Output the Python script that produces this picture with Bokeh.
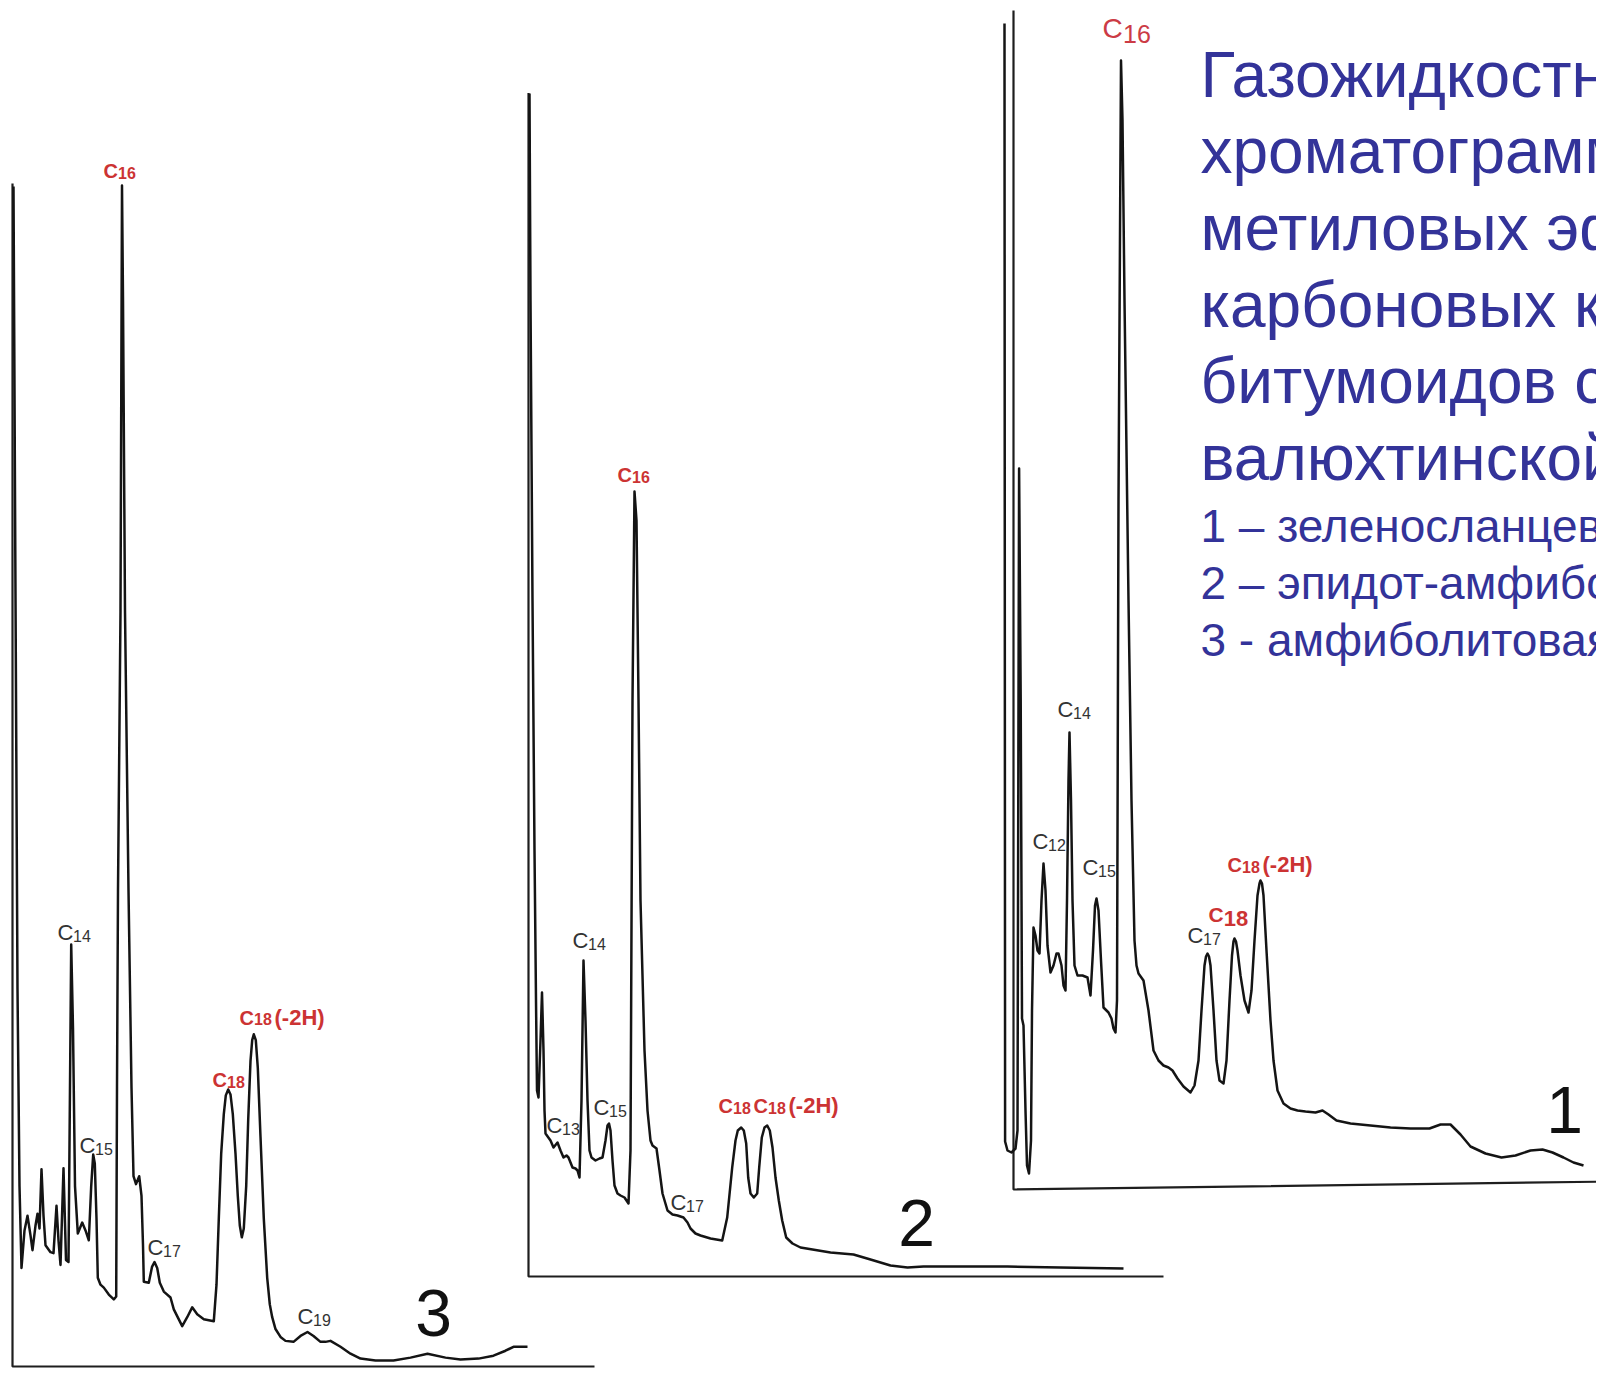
from bokeh.plotting import figure
from bokeh.models import Range1d, ColumnDataSource
from bokeh.core.properties import value
from bokeh.embed import file_html
from bokeh.resources import INLINE

# ---------------- DATA ----------------
# Chromatogram traces: (retention, signal), per chromatogram
chrom1_trace = [
    (-9, 1166), (-8.7, 589), (-8.4, 48), (-6, 39), (-2, 37), (2, 41), (4, 59), (5, 489), (5.6, 721), (7.2, 489),
    (8.5, 171), (10, 164), (12, 79), (13.5, 24), (15.5, 16), (17.5, 49), (18.5, 179), (20, 262), (22, 254), (24, 239),
    (26, 236), (28, 289), (30, 326), (32, 299), (34, 244), (37, 217), (40, 224), (43, 236), (45, 236), (48, 224),
    (50, 204), (52, 199), (53.5, 289), (55, 409), (56, 457), (57.5, 389), (59, 289), (61, 224), (64, 214), (69, 214),
    (74, 212), (77, 194), (79.5, 239), (81.5, 284), (83, 291), (85, 279), (87.5, 229), (90, 182), (93, 179), (95, 177),
    (98, 171), (100, 161), (102, 157), (103.5, 189), (105, 689), (107.5, 1129), (109, 1069), (111, 889), (115, 589), (118, 389),
    (121, 249), (123, 224), (125, 216), (130, 209), (135, 179), (140, 139), (145, 129), (150, 124), (155, 122), (159, 119),
    (164, 111), (170, 103), (177, 97), (181, 104), (185, 129), (188, 179), (191, 224), (192.5, 233), (194, 236), (195.5, 233),
    (197, 224), (200, 179), (203, 129), (206, 109), (210, 106), (213, 129), (216, 189), (218.5, 234), (220, 248), (221, 251),
    (222.5, 248), (224, 239), (227, 214), (231, 189), (235, 177), (238, 199), (241, 249), (244, 294), (246, 306), (247, 309),
    (248.5, 306), (250, 294), (253, 239), (257, 169), (260, 129), (264, 99), (270, 86), (277, 81), (284, 79), (292, 78),
    (302, 77), (309, 79), (315, 75), (323, 69), (337, 66), (357, 64), (377, 62), (397, 61), (416, 61), (427, 65),
    (437, 65), (447, 55), (457, 43), (472, 36), (488, 32), (502, 34), (517, 39), (529, 40), (539, 37), (550, 32),
    (560, 27), (570, 24),
]
chrom2_trace = [
    (1, 1183), (2, 976), (4, 676), (6, 426), (7.5, 276), (8.5, 186), (10, 179), (12, 236), (13.5, 284), (15, 226),
    (16, 166), (17, 143), (22, 136), (25, 129), (29, 134), (32, 126), (35, 119), (38, 121), (40, 119), (44, 109),
    (47, 108), (49, 106), (51, 99), (53, 176), (55, 316), (57, 256), (59, 176), (61, 126), (63, 119), (67, 116),
    (71, 118), (74, 119), (77, 136), (79, 151), (80.5, 153), (82, 146), (84, 116), (86, 91), (89, 83), (92, 81),
    (96, 79), (100, 73), (102, 126), (104, 576), (106, 785), (108, 756), (110, 576), (112, 376), (116, 226), (119, 166),
    (122, 136), (124, 131), (128, 128), (131, 106), (134, 83), (139, 66), (144, 62), (149, 61), (155, 59), (159, 54),
    (162, 48), (167, 43), (172, 41), (182, 38), (193.7, 36), (198.7, 59), (203.7, 109), (207, 136), (209.3, 146), (212.7, 149),
    (215.3, 146), (217.7, 133), (219.7, 99), (222, 83), (225.3, 79), (228.7, 83), (230.7, 109), (233.3, 139), (236, 149), (238.7, 151),
    (241.3, 146), (244, 129), (247, 99), (250.3, 76), (253.7, 56), (257.7, 39), (264, 33), (272, 29), (284, 27), (302, 24),
    (325, 22), (342, 17), (362, 11), (379, 9), (395, 10), (432, 10), (479, 10), (532, 9), (595, 8),
]
chrom3_trace = [
    (1, 1197), (3, 783), (5, 383), (7, 183), (9, 100), (12, 138), (15, 153), (18, 133), (20, 118), (23, 143),
    (25, 155), (27, 140), (29, 200), (31, 153), (33, 123), (38, 116), (41, 115), (44, 163), (46, 128), (48, 103),
    (51, 201), (53.5, 108), (56, 106), (58.7, 428), (60.5, 343), (62.5, 183), (65.3, 135), (69.7, 146), (73, 138), (76.3, 128),
    (78.7, 183), (80.7, 215), (82.3, 206), (84, 150), (85.3, 90), (88, 83), (91.3, 80), (96.3, 73), (101.3, 68), (103.7, 71),
    (104.5, 283), (105.5, 483), (108, 766), (109.5, 1198), (110.5, 1083), (112.5, 766), (116, 483), (119, 283), (121, 193), (123.5, 185),
    (126.7, 193), (129, 173), (130.5, 123), (131.3, 86), (136.3, 85), (139.5, 101), (142, 106), (144.7, 100), (147.3, 85), (151.3, 76),
    (158, 70), (161.3, 58), (169.7, 41), (174.7, 50), (179.7, 60), (184.7, 53), (191.3, 48), (201.3, 46), (204, 83), (206.3, 150),
    (208.7, 216), (211.3, 256), (213.3, 275), (215.7, 281), (218, 276), (220.3, 256), (223, 216), (225.3, 173), (227.3, 143), (229.3, 131),
    (231.3, 140), (233.7, 183), (235.7, 250), (238, 310), (239.7, 331), (241.3, 337), (243.3, 331), (245.3, 303), (248, 233), (251.3, 150),
    (254.7, 90), (257.3, 63), (259.7, 50), (263, 38), (268, 30), (273, 26), (281, 25), (288, 31), (295, 35), (301, 31),
    (308, 25), (313, 25), (318, 26), (328, 20), (338, 13), (348, 8), (363, 6), (381, 6), (398, 9), (415, 13),
    (433, 9), (448, 7), (466, 8), (481, 11), (493, 16), (501, 20), (515, 20),
]

# Axis extents (retention / signal) of each chromatogram frame
chrom1_axis_t = [0, 0, 600]
chrom1_axis_s = [1179, 0, 8]
chrom2_axis_t = [0, 0, 635]
chrom2_axis_s = [1183.5, 0, 0]
chrom3_axis_t = [0, 0, 582]
chrom3_axis_s = [1200, 0, 0]

# Peak labels: subscript, retention, signal (label baseline)
chrom1_gray = [("12", 19, 340), ("14", 44, 472), ("15", 69, 314), ("17", 174, 246)]
chrom1_red = [("18", 214, 317, "(-2H)")]
chrom1_c16 = ("16", 89, 1151)
chrom1_c18 = ("18", 195, 267)
chrom2_gray = [("13", 18, 143), ("14", 44, 328), ("15", 65, 161), ("17", 142, 66)]
chrom2_red = [("16", 89, 794, ""), ("18", 190, 163, ""), ("18", 225, 163, "(-2H)")]
chrom3_gray = [("14", 45, 432), ("15", 67, 216), ("17", 135, 112), ("19", 285, 42)]
chrom3_red = [("16", 91, 1205, ""), ("18", 200, 283, ""), ("18", 227, 346, "(-2H)")]

# Sample numbers (text, retention, signal)
chrom_numbers = {"c1": ("1", 551, 55), "c2": ("2", 388, 29), "c3": ("3", 421, 29)}

title_lines = ["Газожидкостные", "хроматограммы", "метиловых эфиров",
               "карбоновых кислот", "битумоидов сланцев", "валюхтинской свиты"]
legend_lines = ["1 – зеленосланцевая фация", "2 – эпидот-амфиболитовая фация",
                "3 - амфиболитовая фация"]

# ---------------- LAYOUT ----------------
W, H = 1596, 1369
X0, X1 = 0, 1596
Y0, Y1 = 0, 1369
FONT = value("Liberation Sans")
BLUE = "#333399"
RED = "#cc3333"
GRAY = "#333333"
INK = "#141414"
BASE_FIX = 0.37   # em; compensates the renderer's baseline placement

panels = {
    "c1": dict(ox=1013, oy=1189, k=1.0),
    "c2": dict(ox=528, oy=1276, k=1.0),
    "c3": dict(ox=12, oy=1366, k=(1366 - 185) / 1198),
}

p = figure(width=W, height=H, output_backend="svg", toolbar_location=None,
           x_range=Range1d(X0, X1), y_range=Range1d(Y1, Y0),
           x_axis_location=None, y_axis_location=None, min_border=0,
           outline_line_color=None, background_fill_color="white",
           border_fill_color="white")
p.grid.visible = False

xr, yr = {}, {}
for name, pn in panels.items():
    xr[name + "t"] = Range1d(X0 - pn["ox"], X1 - pn["ox"])
    yr[name + "s"] = Range1d((pn["oy"] - Y1) / pn["k"], (pn["oy"] - Y0) / pn["k"])
p.extra_x_ranges = xr
p.extra_y_ranges = yr


def rng(name):
    return dict(x_range_name=name + "t", y_range_name=name + "s")


def fix(name, px):
    return BASE_FIX * px / panels[name]["k"]


traces = {"c1": chrom1_trace, "c2": chrom2_trace, "c3": chrom3_trace}
axes = {"c1": (chrom1_axis_t, chrom1_axis_s), "c2": (chrom2_axis_t, chrom2_axis_s),
        "c3": (chrom3_axis_t, chrom3_axis_s)}

for name in ["c3", "c2", "c1"]:
    at, as_ = axes[name]
    p.line(at, as_, line_width=2.2, line_color="#1e1e1e", **rng(name))
    tt = [a for a, _ in traces[name]]
    ss = [b for _, b in traces[name]]
    p.line(tt, ss, line_width=2.5, line_color=INK, line_join="round", **rng(name))


def c_labels(name, items, color, bold, c_px, sub_px, sub_dx, sub_dy=0.0,
             suf_px=None, suf_dx=None):
    style = "bold" if bold else "normal"
    t = [it[1] for it in items]
    s = [it[2] for it in items]
    src = ColumnDataSource(dict(
        t=t,
        s_c=[v + fix(name, c_px) for v in s],
        s_sub=[v - sub_dy + fix(name, sub_px) for v in s],
        s_suf=[v + fix(name, suf_px or 0) for v in s],
        c=["C"] * len(items),
        sub=[it[0] for it in items],
        suf=[it[3] if len(it) > 3 else "" for it in items]))
    common = dict(source=src, text_font=FONT, text_font_style=style, text_color=color,
                  text_align="left", text_baseline="alphabetic", **rng(name))
    p.text(x="t", y="s_c", text="c", text_font_size=f"{c_px}px", **common)
    p.text(x="t", y="s_sub", text="sub", text_font_size=f"{sub_px}px",
           x_offset=sub_dx, **common)
    if suf_px:
        p.text(x="t", y="s_suf", text="suf", text_font_size=f"{suf_px}px",
               x_offset=suf_dx, **common)


for name, gray in [("c1", chrom1_gray), ("c2", chrom2_gray), ("c3", chrom3_gray)]:
    c_labels(name, gray, GRAY, False, 22, 16, 15.5, sub_dy=1)

for name, red in [("c1", chrom1_red), ("c2", chrom2_red), ("c3", chrom3_red)]:
    c_labels(name, red, RED, True, 20, 16, 14.5, sub_dy=0, suf_px=22, suf_dx=35)

c_labels("c1", [chrom1_c16], "#cc3b45", False, 28, 25, 20.5, sub_dy=5)
c_labels("c1", [chrom1_c18], RED, True, 21, 22, 15.2, sub_dy=4)

for name, (txt, t, s) in chrom_numbers.items():
    p.text(x=[t], y=[s + fix(name, 66)], text=[txt], text_font=FONT, text_font_size="66px",
           text_color="#111111", text_align="center", text_baseline="alphabetic", **rng(name))

# Title block (page coordinates, y grows downward)
title_y = [98 + 76.6 * i - BASE_FIX * 64 for i in range(len(title_lines))]
p.text(x=[1200] * len(title_lines), y=title_y, text=title_lines, text_font=FONT,
       text_font_size="64px", text_color=BLUE, text_align="left", text_baseline="alphabetic")
legend_y = [543 + 57 * i - BASE_FIX * 46 for i in range(len(legend_lines))]
p.text(x=[1200] * len(legend_lines), y=legend_y, text=legend_lines, text_font=FONT,
       text_font_size="46px", text_color=BLUE, text_align="left", text_baseline="alphabetic")

open("out.html", "w").write(file_html(p, INLINE))
